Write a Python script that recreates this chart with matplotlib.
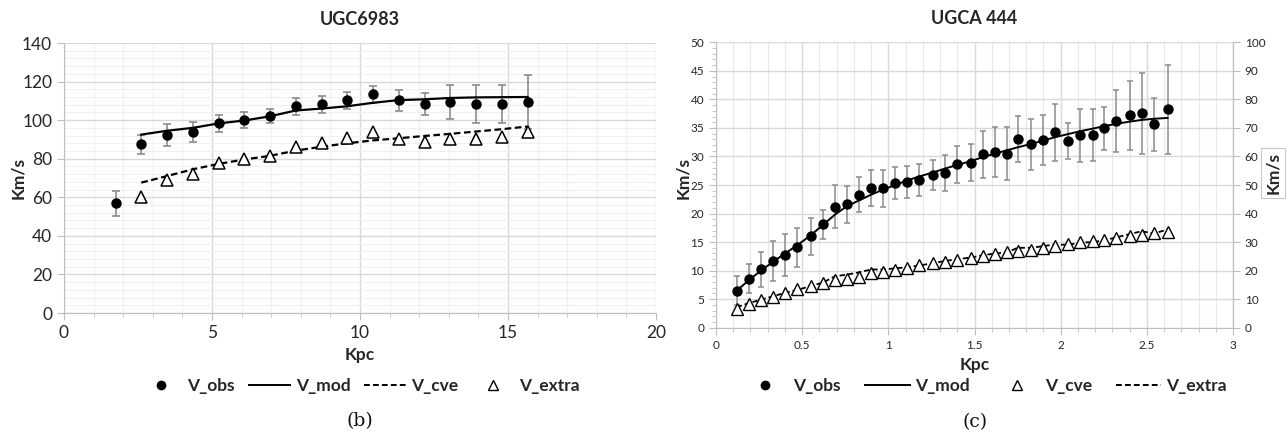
import matplotlib.pyplot as plt
from matplotlib.ticker import MultipleLocator
from matplotlib.lines import Line2D

plt.rcParams['font.family'] = ['Lato', 'DejaVu Sans']

# ---- (b) UGC6983 ----
r_b = [1.74, 2.61, 3.48, 4.35, 5.22, 6.09, 6.96, 7.83, 8.70, 9.57,
       10.44, 11.31, 12.18, 13.05, 13.92, 14.79, 15.66]
vobs_b = [56.9, 87.5, 92.4, 93.9, 98.4, 100.0, 102.2, 107.3, 108.3, 110.2,
          113.3, 110.2, 108.3, 109.3, 108.3, 108.3, 109.3]
err_b = [6.6, 4.9, 5.7, 5.3, 4.5, 4.3, 3.5, 4.4, 4.4, 4.3,
         4.2, 5.2, 5.7, 8.7, 9.8, 9.8, 14.0]
r_fit_b = r_b[1:]
vmod_b = [92.5, 94.5, 96.0, 98.3, 99.8, 102.0, 105.0, 106.0, 107.2, 109.0,
          110.4, 110.8, 111.5, 111.8, 111.9, 112.0]
vcve_b = [67.6, 71.0, 74.5, 77.3, 79.6, 81.5, 84.2, 86.2, 88.0, 89.5,
          90.6, 91.8, 92.9, 94.1, 95.3, 96.7]
vextra_b = [60.4, 69.0, 72.1, 77.7, 79.9, 81.6, 86.3, 88.2, 91.0, 94.1,
            90.3, 88.9, 90.3, 90.0, 91.2, 93.6]

# ---- (c) UGCA 444 ----
r_c = [0.12, 0.19, 0.26, 0.33, 0.40, 0.47, 0.55, 0.62, 0.69, 0.76,
       0.83, 0.90, 0.97, 1.04, 1.11, 1.18, 1.26, 1.33, 1.40, 1.48,
       1.55, 1.62, 1.69, 1.75, 1.83, 1.90, 1.97, 2.04, 2.11, 2.19,
       2.25, 2.32, 2.40, 2.47, 2.54, 2.62]
vobs_c = [6.5, 8.6, 10.2, 11.7, 12.7, 14.1, 16.0, 18.1, 21.2, 21.6,
          23.3, 24.5, 24.4, 25.4, 25.5, 25.9, 26.7, 27.1, 28.6, 28.9,
          30.4, 30.8, 30.5, 33.0, 32.1, 32.9, 34.2, 32.7, 33.7, 33.8,
          34.9, 36.2, 37.2, 37.6, 35.6, 38.3]
err_c = [2.6, 2.6, 3.0, 3.5, 3.7, 3.4, 3.3, 2.6, 3.8, 3.3,
         3.1, 3.2, 3.3, 2.8, 2.8, 2.8, 2.6, 3.2, 3.3, 3.2,
         4.1, 4.4, 4.6, 4.05, 4.4, 4.4, 5.0, 3.2, 4.7, 4.6,
         3.75, 5.5, 6.0, 7.1, 4.7, 7.8]
vmod_c = [6.5, 8.3, 10.0, 11.5, 13.0, 14.4, 16.2, 18.0, 19.8, 21.3,
          22.3, 23.3, 24.2, 25.0, 25.8, 26.5, 27.2, 27.9, 28.5, 29.2,
          29.9, 30.5, 31.1, 31.6, 32.2, 32.8, 33.4, 33.9, 34.4, 34.9,
          35.3, 35.7, 36.1, 36.4, 36.6, 36.75]
# secondary axis (0-100)
vcve_c = [6.4, 8.3, 9.6, 10.8, 12.2, 13.4, 14.7, 15.6, 16.6, 17.2,
          17.9, 19.0, 19.5, 20.2, 20.8, 21.8, 22.6, 23.0, 23.7, 24.5,
          25.2, 25.9, 26.5, 27.0, 27.4, 28.1, 28.6, 29.3, 30.0, 30.4,
          30.9, 31.4, 32.0, 32.4, 33.2, 33.6]
vextra_c = [7.2, 8.6, 9.8, 11.0, 12.2, 13.2, 14.6, 15.8, 18.0, 18.6,
            19.4, 20.4, 20.4, 20.8, 21.2, 21.8, 22.6, 23.4, 24.0, 24.6,
            25.4, 26.0, 26.4, 28.0, 28.0, 28.6, 29.2, 29.0, 29.8, 30.0,
            30.6, 31.6, 32.8, 33.8, 33.0, 34.4]

TXT = '#262626'
AXC = '#bfbfbf'
ERRC = '#8c8c8c'
DASH = (0, (3, 1.6))


def excel_axes(ax):
    for s in ['top', 'right']:
        ax.spines[s].set_visible(False)
    for s in ['left', 'bottom']:
        ax.spines[s].set_color(AXC)
    ax.tick_params(which='both', colors=AXC, labelcolor=TXT)
    ax.set_axisbelow(True)


fig = plt.figure(figsize=(12.88, 4.34), dpi=100)

# ---------- left chart ----------
ax = fig.add_axes([64 / 1288, 121 / 434, 592 / 1288, 270 / 434])
excel_axes(ax)
ax.set_xlim(0, 20)
ax.set_ylim(0, 140)
ax.xaxis.set_major_locator(MultipleLocator(5))
ax.xaxis.set_minor_locator(MultipleLocator(1))
ax.yaxis.set_major_locator(MultipleLocator(20))
ax.yaxis.set_minor_locator(MultipleLocator(4))
ax.grid(which='major', color='#d9d9d9', lw=1.0)
ax.grid(which='minor', color='#f0f0f0', lw=0.8)
ax.tick_params(which='major', length=5, labelsize=12.5)
ax.tick_params(axis='x', which='minor', length=3)
ax.tick_params(axis='y', which='minor', length=0)
ax.errorbar(r_b, vobs_b, yerr=err_b, fmt='none', ecolor=ERRC,
            elinewidth=1.2, capsize=3, capthick=1.2, zorder=2)
ax.plot(r_b, vobs_b, 'o', color='black', ms=6.5, zorder=4)
ax.plot(r_fit_b, vmod_b, '-', color='black', lw=1.6, zorder=3)
ax.plot(r_fit_b, vcve_b, linestyle=DASH, color='black', lw=1.6, zorder=3)
ax.plot(r_fit_b, vextra_b, '^', mfc='white', mec='black', mew=1.1, ms=8.5, zorder=4)
ax.set_title('UGC6983', fontsize=13, fontweight='bold', color=TXT, pad=13)
fig.text(18 / 1288, 1 - 178 / 434, 'Km/s', rotation=90, fontsize=12.5, fontweight='bold',
         color=TXT, ha='center', va='center')
fig.text(360 / 1288, 1 - 355 / 434, 'Kpc', fontsize=12.5, fontweight='bold',
         color=TXT, ha='center', va='center')

h_b = [Line2D([], [], marker='o', ls='none', color='black', ms=6),
       Line2D([], [], ls='-', color='black', lw=1.4),
       Line2D([], [], ls=DASH, color='black', lw=1.4),
       Line2D([], [], marker='^', ls='none', mfc='white', mec='black', ms=7)]
fig.legend(h_b, ['V_obs', 'V_mod', 'V_cve', 'V_extra'], ncol=4, frameon=False,
           loc='center', bbox_to_anchor=(360 / 1288, 1 - 386 / 434),
           prop={'weight': 'bold', 'size': 12.5}, labelcolor=TXT,
           handlelength=2.4, handletextpad=0.3, columnspacing=0.8)
fig.text(360 / 1288, 1 - 421 / 434, '(b)', family='DejaVu Serif', fontsize=13.5,
         ha='center', va='center', color='#111111')

# ---------- right chart ----------
ax = fig.add_axes([716 / 1288, 106.3 / 434, 517 / 1288, 285.4 / 434])
excel_axes(ax)
ax.spines['right'].set_visible(True)
ax.spines['right'].set_color(AXC)
ax.set_xlim(0, 3)
ax.set_ylim(0, 50)
ax.xaxis.set_major_locator(MultipleLocator(0.5))
ax.xaxis.set_minor_locator(MultipleLocator(0.1))
ax.yaxis.set_major_locator(MultipleLocator(5))
ax.yaxis.set_minor_locator(MultipleLocator(1))
ax.xaxis.set_major_formatter(plt.FuncFormatter(lambda v, p: f'{v:g}'))
ax.grid(which='major', color='#d9d9d9', lw=1.0)
ax.grid(axis='x', which='minor', color='#e8e8e8', lw=0.8)
ax.tick_params(which='major', length=5, labelsize=8.5)
ax.tick_params(which='minor', length=3)
ax.errorbar(r_c, vobs_c, yerr=err_c, fmt='none', ecolor=ERRC,
            elinewidth=1.1, capsize=2.5, capthick=1.1, zorder=2)
ax.plot(r_c, vobs_c, 'o', color='black', ms=6.5, zorder=4)
ax.plot(r_c, vmod_c, '-', color='black', lw=1.4, zorder=3)
ax.set_title('UGCA 444', fontsize=13, fontweight='bold', color=TXT, pad=13)
fig.text(683 / 1288, 1 - 178 / 434, 'Km/s', rotation=90, fontsize=12.5, fontweight='bold',
         color=TXT, ha='center', va='center')
fig.text(975 / 1288, 1 - 365 / 434, 'Kpc', fontsize=12.5, fontweight='bold',
         color=TXT, ha='center', va='center')

ax2 = ax.twinx()
ax2.set_ylim(0, 100)
ax2.yaxis.set_major_locator(MultipleLocator(10))
for s in ['top', 'left', 'bottom']:
    ax2.spines[s].set_visible(False)
ax2.spines['right'].set_color(AXC)
ax2.tick_params(colors=AXC, labelcolor=TXT, length=5, labelsize=8.5)
ax2.plot(r_c, vextra_c, linestyle=DASH, color='black', lw=1.3, zorder=3)
ax2.plot(r_c, vcve_c, '^', mfc='white', mec='black', mew=1.0, ms=8, zorder=4)
fig.text(1273 / 1288, 1 - 173 / 434, 'Km/s', rotation=90, fontsize=12.5, fontweight='bold',
         color=TXT, ha='center', va='center',
         bbox=dict(facecolor='white', edgecolor='#c8c8c8', lw=0.8, pad=3))

h_c = [Line2D([], [], marker='o', ls='none', color='black', ms=6),
       Line2D([], [], ls='-', color='black', lw=1.4),
       Line2D([], [], marker='^', ls='none', mfc='white', mec='black', ms=7),
       Line2D([], [], ls=DASH, color='black', lw=1.4)]
fig.legend(h_c, ['V_obs', 'V_mod', 'V_cve', 'V_extra'], ncol=4, frameon=False,
           loc='center', bbox_to_anchor=(985 / 1288, 1 - 386 / 434),
           prop={'weight': 'bold', 'size': 12.5}, labelcolor=TXT,
           handlelength=2.6, handletextpad=0.3, columnspacing=1.4)
fig.text(975 / 1288, 1 - 422 / 434, '(c)', family='DejaVu Serif', fontsize=13.5,
         ha='center', va='center', color='#111111')

fig.savefig('out.png', dpi=100, facecolor='white')
